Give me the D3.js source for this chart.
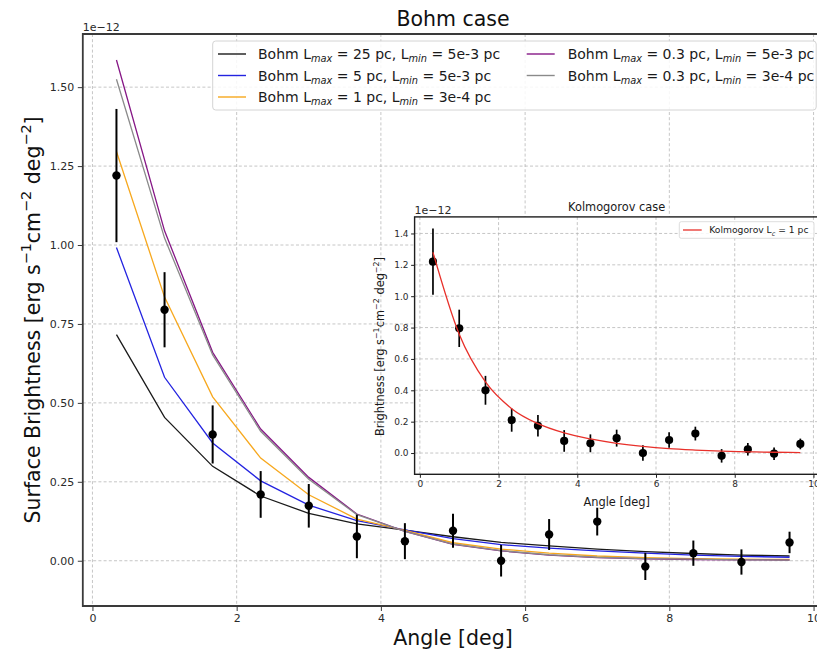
<!DOCTYPE html>
<html>
<head>
<meta charset="utf-8">
<script src="https://cdn.jsdelivr.net/npm/d3@7"></script>
<style>
  html, body { margin: 0; padding: 0; background: #fff; }
  svg { display: block; font-family: "DejaVu Sans", sans-serif; }
</style>
</head>
<body>
<svg id="chart" width="817" height="652"></svg>
<script>
// ---- data (units of 1e-12 erg s^-1 cm^-2 deg^-2) ----
const angles = [0.333, 1.0, 1.667, 2.333, 3.0, 3.667, 4.333, 5.0, 5.667, 6.333, 7.0, 7.667, 8.333, 9.0, 9.667];
const observed = [1.22, 0.795, 0.40, 0.21, 0.174, 0.077, 0.062, 0.095, 0.0, 0.083, 0.124, -0.018, 0.024, -0.004, 0.058];
const observedErr = [0.211, 0.119, 0.092, 0.074, 0.069, 0.069, 0.057, 0.054, 0.05, 0.049, 0.044, 0.043, 0.04, 0.04, 0.034];

const bohm25 = [0.716, 0.454, 0.299, 0.205, 0.150, 0.117, 0.097, 0.076, 0.058, 0.047, 0.037, 0.029, 0.023, 0.018, 0.015];
const bohm5 = [0.992, 0.581, 0.373, 0.253, 0.176, 0.127, 0.098, 0.070, 0.051, 0.040, 0.031, 0.024, 0.018, 0.014, 0.011];
const bohm1 = [1.296, 0.835, 0.519, 0.325, 0.209, 0.132, 0.096, 0.057, 0.037, 0.024, 0.015, 0.010, 0.007, 0.005, 0.004];
const bohm03a = [1.586, 1.045, 0.660, 0.417, 0.264, 0.148, 0.093, 0.052, 0.031, 0.018, 0.010, 0.006, 0.004, 0.003, 0.002];
const bohm03b = [1.525, 1.022, 0.652, 0.410, 0.258, 0.146, 0.093, 0.053, 0.032, 0.019, 0.011, 0.007, 0.005, 0.003, 0.002];

const kolmogorov = [1.28, 0.757, 0.453, 0.283, 0.187, 0.128, 0.090, 0.062, 0.042, 0.028, 0.019, 0.012, 0.008, 0.005, 0.003];

const mainXTicks = [0, 2, 4, 6, 8, 10];
const mainYTicks = [0, 0.25, 0.5, 0.75, 1.0, 1.25, 1.5];
const insetXTicks = [0, 2, 4, 6, 8, 10];
const insetYTicks = [0, 0.2, 0.4, 0.6, 0.8, 1.0, 1.2, 1.4];

const bohmSeries = [
  { values: bohm25, color: "#1a1a1a", label: [["Bohm L"], ["max", "sub"], [" = 25 pc, L"], ["min", "sub"], [" = 5e-3 pc"]] },
  { values: bohm5, color: "#2323e0", label: [["Bohm L"], ["max", "sub"], [" = 5 pc, L"], ["min", "sub"], [" = 5e-3 pc"]] },
  { values: bohm1, color: "#f7a81e", label: [["Bohm L"], ["max", "sub"], [" = 1 pc, L"], ["min", "sub"], [" = 3e-4 pc"]] },
  { values: bohm03a, color: "#861786", label: [["Bohm L"], ["max", "sub"], [" = 0.3 pc, L"], ["min", "sub"], [" = 5e-3 pc"]] },
  { values: bohm03b, color: "#8a8a8a", label: [["Bohm L"], ["max", "sub"], [" = 0.3 pc, L"], ["min", "sub"], [" = 3e-4 pc"]] }
];

// ---- helpers ----
const svg = d3.select("#chart");

// text with sub/superscript runs
function richText(sel, parts, size) {
  let cur = 0;
  parts.forEach(([t, mode]) => {
    const off = mode === "sub" ? 0.24 * size : mode === "sup" ? -0.42 * size : 0;
    const ts = sel.append("tspan").attr("dy", off - cur).text(t);
    if (mode) ts.attr("font-size", 0.7 * size);
    if (mode === "sub") ts.attr("font-style", "italic");
    cur = off;
  });
}

// axis range with 5% padding on each side
function padded(lo, hi) {
  const p = (hi - lo) * 0.05;
  return [lo - p, hi + p];
}

function gridLines(g, x, y, xt, yt, x0, x1, y0, y1) {
  const gg = g.append("g").attr("stroke", "#b8b8b8").attr("stroke-width", 0.8)
    .attr("stroke-dasharray", "3,2.2");
  xt.forEach(v => gg.append("line").attr("x1", x(v)).attr("x2", x(v)).attr("y1", y0).attr("y2", y1));
  yt.forEach(v => gg.append("line").attr("y1", y(v)).attr("y2", y(v)).attr("x1", x0).attr("x2", x1));
}

function styleAxis(g, size, color) {
  g.select(".domain").remove();
  g.selectAll(".tick line").attr("stroke", color).attr("stroke-width", 1);
  g.selectAll(".tick text").attr("font-size", size).attr("fill", "#2a2a2a")
    .attr("font-family", "DejaVu Sans, sans-serif");
}

// ================= main panel =================
const M = { left: 82.8, right: 823.2, top: 34, bottom: 606 };

const allMain = bohmSeries.flatMap(s => s.values)
  .concat(observed.map((v, i) => v + observedErr[i]))
  .concat(observed.map((v, i) => v - observedErr[i]));
const x = d3.scaleLinear().domain(padded(d3.min(angles), d3.max(angles))).range([M.left, M.right]);
const y = d3.scaleLinear().domain(padded(d3.min(allMain), d3.max(allMain))).range([M.bottom, M.top]);

const main = svg.append("g");
gridLines(main, x, y, mainXTicks, mainYTicks, M.left, M.right, M.top, M.bottom);

const line = d3.line().x((d, i) => x(angles[i])).y(d => y(d));
bohmSeries.forEach(s => {
  main.append("path").datum(s.values).attr("d", line)
    .attr("fill", "none").attr("stroke", s.color).attr("stroke-width", 1.3);
});

function drawPoints(g, xs, ys, r, w) {
  g.append("g").selectAll("line").data(observed).join("line")
    .attr("x1", (d, i) => xs(angles[i])).attr("x2", (d, i) => xs(angles[i]))
    .attr("y1", (d, i) => ys(d - observedErr[i])).attr("y2", (d, i) => ys(d + observedErr[i]))
    .attr("stroke", "#000").attr("stroke-width", w);
  g.append("g").selectAll("circle").data(observed).join("circle")
    .attr("cx", (d, i) => xs(angles[i])).attr("cy", d => ys(d)).attr("r", r).attr("fill", "#000");
}
drawPoints(main, x, y, 4.2, 2);

// spines
main.append("path")
  .attr("d", `M${M.right},${M.top}H${M.left}V${M.bottom}H${M.right}`)
  .attr("fill", "none").attr("stroke", "#3a3a3a").attr("stroke-width", 1.8);

const gx = main.append("g").attr("transform", `translate(0,${M.bottom})`)
  .call(d3.axisBottom(x).tickValues(mainXTicks).tickFormat(d3.format("d")).tickSize(5).tickPadding(3.5));
styleAxis(gx, 11, "#3a3a3a");
const gy = main.append("g").attr("transform", `translate(${M.left},0)`)
  .call(d3.axisLeft(y).tickValues(mainYTicks).tickFormat(d3.format(".2f")).tickSize(5).tickPadding(3.5));
styleAxis(gy, 11, "#3a3a3a");

main.append("text").attr("x", M.left).attr("y", 31).attr("font-size", 11).attr("fill", "#2a2a2a").text("1e\u221212");

// legend
const leg = main.append("g");
leg.append("rect").attr("x", 212.7).attr("y", 41).attr("width", 603.5).attr("height", 69)
  .attr("rx", 3).attr("fill", "#fff").attr("fill-opacity", 0.85).attr("stroke", "#d4d4d4").attr("stroke-width", 1);
bohmSeries.forEach((s, i) => {
  const col = i < 3 ? 0 : 1, row = i < 3 ? i : i - 3;
  const hx = col === 0 ? 218 : 526.7;
  const tx = col === 0 ? 258 : 567.7;
  const cy = 54 + row * 21.5;
  leg.append("line").attr("x1", hx).attr("x2", hx + 28).attr("y1", cy).attr("y2", cy)
    .attr("stroke", s.color).attr("stroke-width", 1.4);
  const t = leg.append("text").attr("x", tx).attr("y", cy + 5).attr("font-size", 14).attr("fill", "#1a1a1a");
  richText(t, s.label, 14);
});

// titles and labels
svg.append("text").attr("x", (M.left + M.right) / 2).attr("y", 26).attr("text-anchor", "middle")
  .attr("font-size", 20.5).attr("fill", "#111").text("Bohm case");
svg.append("text").attr("x", (M.left + M.right) / 2).attr("y", 645).attr("text-anchor", "middle")
  .attr("font-size", 20.5).attr("fill", "#111").text("Angle [deg]");
const yl = svg.append("text").attr("transform", "translate(39.5,320) rotate(-90)")
  .attr("text-anchor", "middle").attr("font-size", 20.5).attr("fill", "#111");
richText(yl, [["Surface Brightness [erg s"], ["\u22121", "sup"], ["cm"], ["\u22122", "sup"], [" deg"], ["\u22122", "sup"], ["]"]], 20.5);

// ================= inset panel =================
const I = { left: 414.6, right: 818.7, top: 216.9, bottom: 474.3 };
const allInset = kolmogorov
  .concat(observed.map((v, i) => v + observedErr[i]))
  .concat(observed.map((v, i) => v - observedErr[i]));
const xi = d3.scaleLinear().domain(padded(d3.min(angles), d3.max(angles))).range([I.left, I.right]);
const yi = d3.scaleLinear().domain(padded(d3.min(allInset), d3.max(allInset))).range([I.bottom, I.top]);

const inset = svg.append("g");
inset.append("rect").attr("x", I.left).attr("y", I.top).attr("width", I.right - I.left)
  .attr("height", I.bottom - I.top).attr("fill", "#fff");
gridLines(inset, xi, yi, insetXTicks, insetYTicks, I.left, I.right, I.top, I.bottom);

drawPoints(inset, xi, yi, 4.1, 1.7);
const lineI = d3.line().x((d, i) => xi(angles[i])).y(d => yi(d)).curve(d3.curveMonotoneX);
inset.append("path").datum(kolmogorov).attr("d", lineI)
  .attr("fill", "none").attr("stroke", "#e8302a").attr("stroke-width", 1.3);

inset.append("rect").attr("x", I.left).attr("y", I.top).attr("width", I.right - I.left)
  .attr("height", I.bottom - I.top).attr("fill", "none").attr("stroke", "#1e1e1e").attr("stroke-width", 1.4);

const gxi = inset.append("g").attr("transform", `translate(0,${I.bottom})`)
  .call(d3.axisBottom(xi).tickValues(insetXTicks).tickFormat(d3.format("d")).tickSize(3.5).tickPadding(2.5));
styleAxis(gxi, 9, "#1e1e1e");
const gyi = inset.append("g").attr("transform", `translate(${I.left},0)`)
  .call(d3.axisLeft(yi).tickValues(insetYTicks).tickFormat(d3.format(".1f")).tickSize(3.5).tickPadding(2.5));
styleAxis(gyi, 9, "#1e1e1e");

inset.append("text").attr("x", I.left).attr("y", 213.5).attr("font-size", 11).attr("fill", "#2a2a2a").text("1e\u221212");
inset.append("text").attr("x", (I.left + I.right) / 2).attr("y", 211).attr("text-anchor", "middle")
  .attr("font-size", 11.4).attr("fill", "#1a1a1a").text("Kolmogorov case");
inset.append("text").attr("x", (I.left + I.right) / 2).attr("y", 505.5).attr("text-anchor", "middle")
  .attr("font-size", 11.4).attr("fill", "#1a1a1a").text("Angle [deg]");
const yli = inset.append("text").attr("transform", "translate(384,346.5) rotate(-90)")
  .attr("text-anchor", "middle").attr("font-size", 11.4).attr("fill", "#1a1a1a");
richText(yli, [["Brightness [erg s"], ["\u22121", "sup"], ["cm"], ["\u22122", "sup"], [" deg"], ["\u22122", "sup"], ["]"]], 11.4);

// inset legend
const legI = inset.append("g");
legI.append("rect").attr("x", 679.3).attr("y", 221.7).attr("width", 134.7).attr("height", 16.6)
  .attr("rx", 2).attr("fill", "#fff").attr("fill-opacity", 0.85).attr("stroke", "#d4d4d4").attr("stroke-width", 0.8);
legI.append("line").attr("x1", 683).attr("x2", 701.7).attr("y1", 230).attr("y2", 230)
  .attr("stroke", "#e8302a").attr("stroke-width", 1.3);
const tI = legI.append("text").attr("x", 709.3).attr("y", 233.3).attr("font-size", 9.2).attr("fill", "#1a1a1a");
richText(tI, [["Kolmogorov L"], ["c", "sub"], [" = 1 pc"]], 9.2);
</script>
</body>
</html>
